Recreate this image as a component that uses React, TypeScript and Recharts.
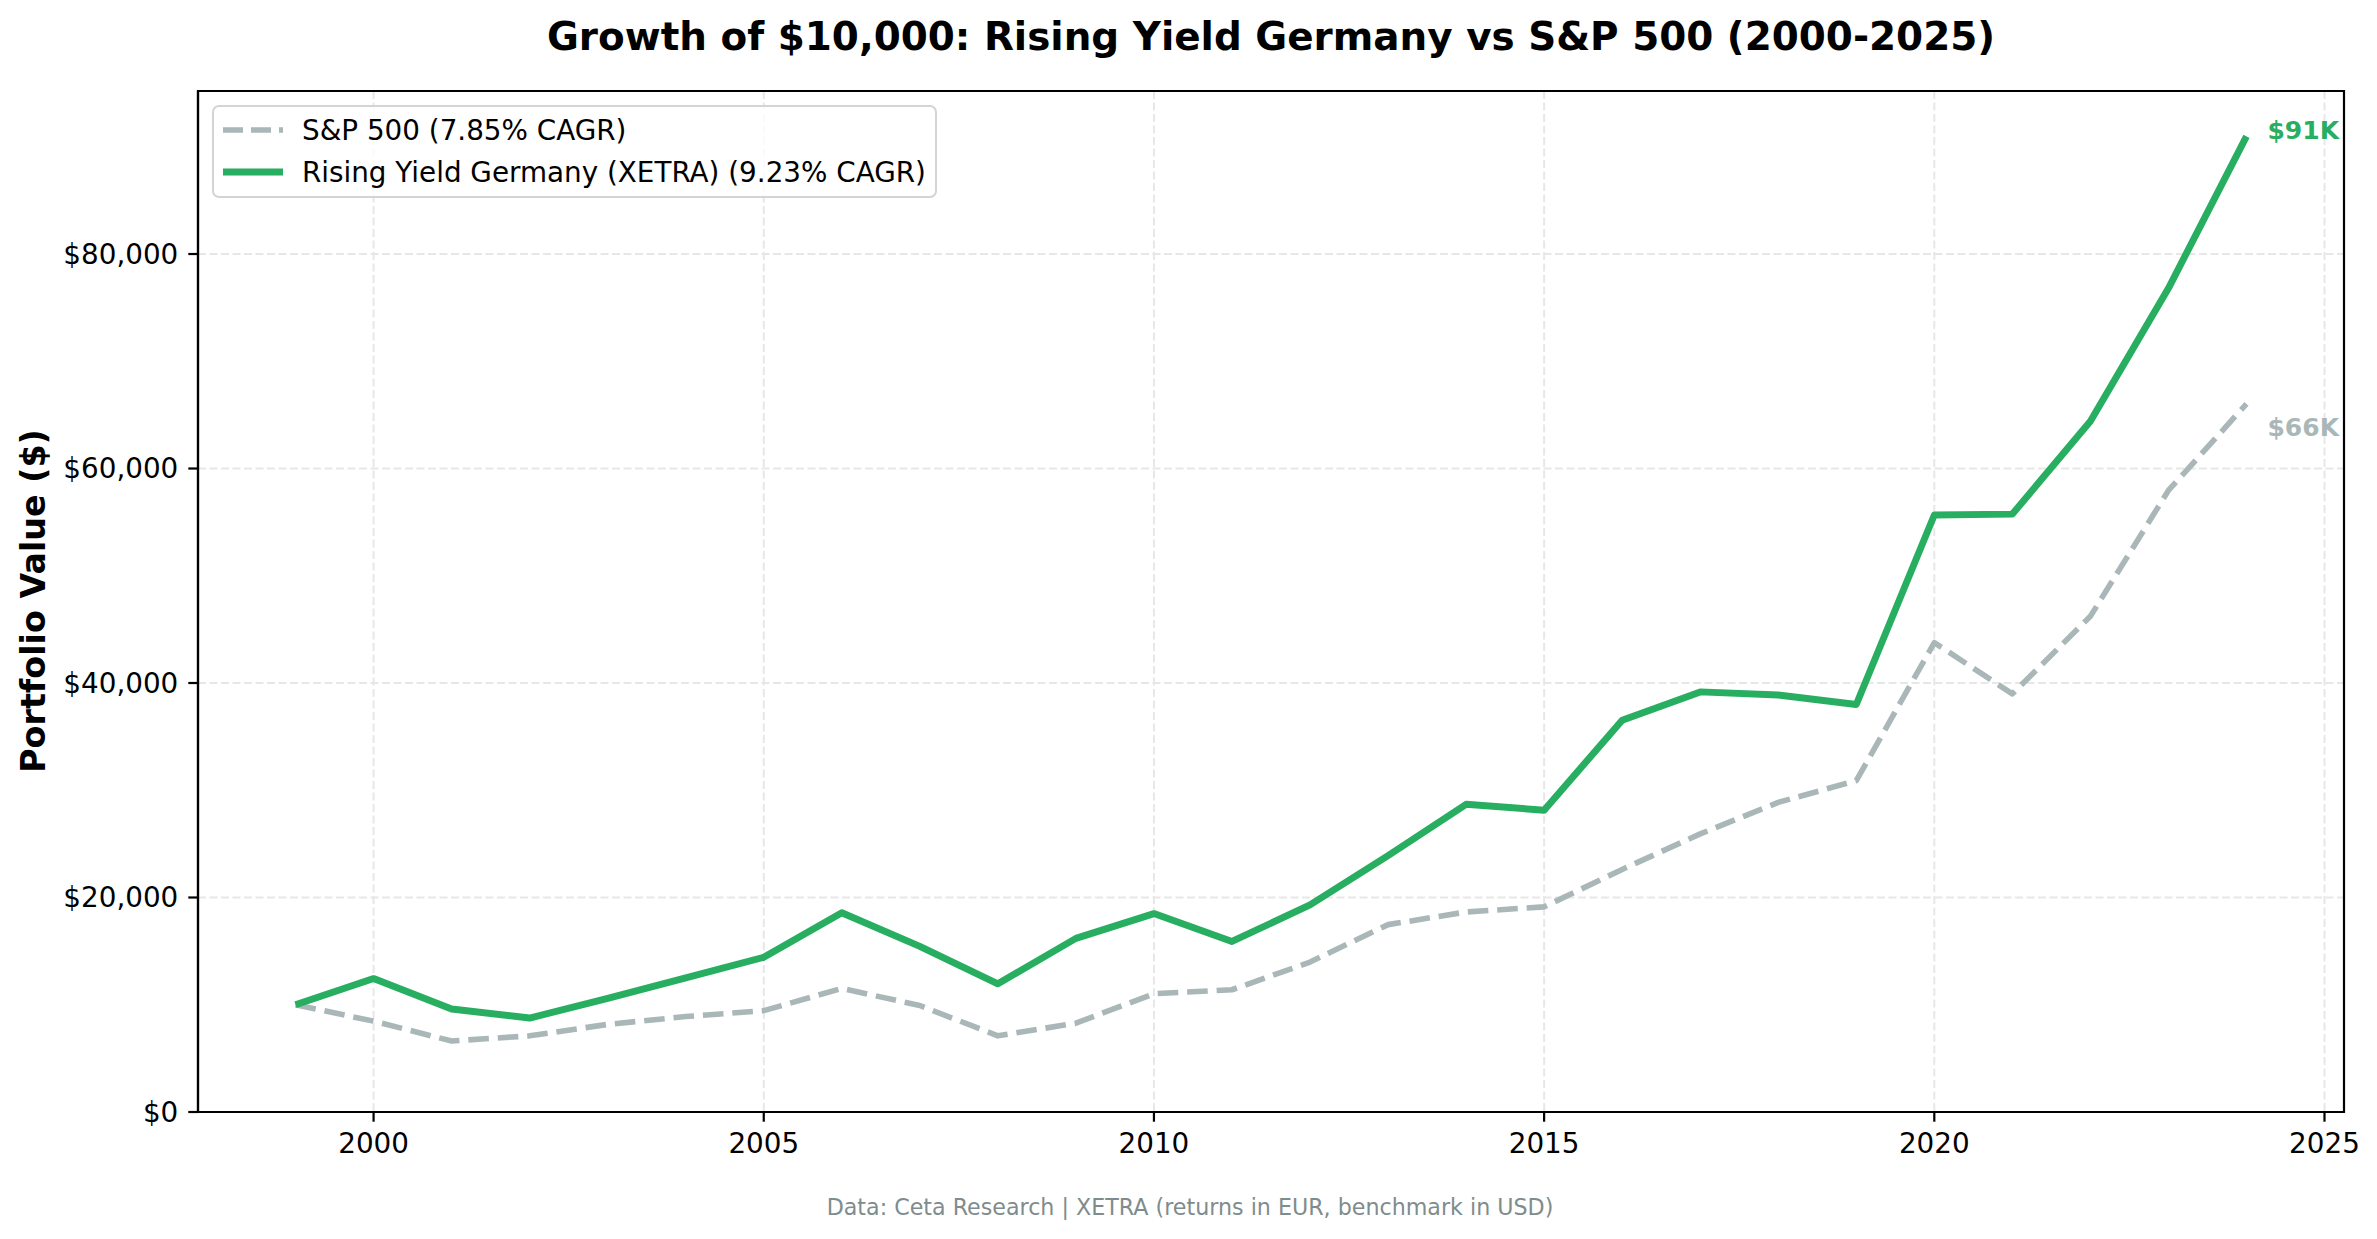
import React from "react";
import {
  LineChart,
  Line,
  XAxis,
  YAxis,
  CartesianGrid,
  ReferenceArea,
} from "recharts";

const YEARS = [
  1999, 2000, 2001, 2002, 2003, 2004, 2005, 2006, 2007, 2008, 2009, 2010, 2011,
  2012, 2013, 2014, 2015, 2016, 2017, 2018, 2019, 2020, 2021, 2022, 2023, 2024,
];

const SP500 = [
  10000, 8470, 6620, 7100, 8170, 8900, 9450, 11520, 9930, 7100, 8280, 11030,
  11400, 13980, 17470, 18650, 19130, 22620, 25930, 28870, 30900, 43770, 38990,
  46220, 57950, 66020,
];

const RISING_YIELD = [
  10000, 12440, 9600, 8760, 10600, 12500, 14420, 18580, 15450, 11950, 16190,
  18500, 15900, 19310, 23900, 28690, 28140, 36530, 39170, 38880, 38000, 55660,
  55750, 64400, 76800, 90970,
];

const X_TICKS = [2000, 2005, 2010, 2015, 2020, 2025];
const Y_TICKS = [0, 20000, 40000, 60000, 80000];

const GREEN = "#27ae60";
const GRAY = "#aab7b8";
const FONT = "'DejaVu Sans', sans-serif";

const data = YEARS.map((year, i) => ({
  year,
  sp: SP500[i],
  ryg: RISING_YIELD[i],
}));

// label only the last point of a series, to the right of the line end
const endLabel = (color: string, text: string, dy: number) => (props: any) => {
  const { x, y, index } = props;
  if (index !== YEARS.length - 1) return null;
  return (
    <text
      x={x + 21}
      y={y + dy}
      fill={color}
      fontSize={25}
      fontWeight="bold"
      fontFamily={FONT}
      dominantBaseline="central"
    >
      {text}
    </text>
  );
};

const tickStyle = { fontSize: 27.8, fill: "#000", fontFamily: FONT };

export default function App() {
  return (
    <div
      style={{
        position: "absolute",
        left: 0,
        top: 0,
        width: 2377,
        height: 1239,
        background: "#fff",
        fontFamily: FONT,
      }}
    >
      {/* title */}
      <div
        style={{
          position: "absolute",
          left: 1271,
          top: 36,
          transform: "translate(-50%, -50%)",
          fontSize: 38.9,
          fontWeight: "bold",
          whiteSpace: "nowrap",
        }}
      >
        Growth of $10,000: Rising Yield Germany vs S&amp;P 500 (2000-2025)
      </div>

      {/* y label */}
      <div
        style={{
          position: "absolute",
          left: 33,
          top: 601,
          transform: "translate(-50%, -50%) rotate(-90deg)",
          fontSize: 33.3,
          fontWeight: "bold",
          whiteSpace: "nowrap",
        }}
      >
        Portfolio Value ($)
      </div>

      <LineChart
        width={2377}
        height={1239}
        data={data}
        margin={{ top: 91, right: 33, bottom: 67, left: 48 }}
      >
        <CartesianGrid
          stroke="#e7e7e7"
          strokeWidth={2}
          strokeDasharray="8 3.5"
        />
        <XAxis
          dataKey="year"
          type="number"
          domain={[1997.75, 2025.25]}
          ticks={X_TICKS}
          height={60}
          tick={tickStyle}
          tickSize={9.7}
          tickMargin={12}
          tickLine={{ stroke: "#000", strokeWidth: 2.2 }}
          axisLine={{ stroke: "#000", strokeWidth: 2.2 }}
          allowDataOverflow
        />
        <YAxis
          type="number"
          domain={[0, 95200]}
          ticks={Y_TICKS}
          width={150}
          tick={tickStyle}
          tickSize={9.7}
          tickMargin={10}
          tickLine={{ stroke: "#000", strokeWidth: 2.2 }}
          axisLine={{ stroke: "#000", strokeWidth: 2.2 }}
          tickFormatter={(v: number) => `$${v.toLocaleString("en-US")}`}
          allowDataOverflow
        />
        {/* full frame around the plot area */}
        <ReferenceArea
          x1={1997.75}
          x2={2025.25}
          y1={0}
          y2={95200}
          fill="none"
          stroke="#000"
          strokeWidth={2.2}
          fillOpacity={0}
        />
        <Line
          type="linear"
          dataKey="sp"
          stroke={GRAY}
          strokeWidth={5.6}
          strokeDasharray="20.6 8.9"
          strokeLinejoin="round"
          dot={false}
          isAnimationActive={false}
          label={endLabel(GRAY, "$66K", 24)}
        />
        <Line
          type="linear"
          dataKey="ryg"
          stroke={GREEN}
          strokeWidth={6.9}
          strokeLinejoin="round"
          dot={false}
          isAnimationActive={false}
          label={endLabel(GREEN, "$91K", -6)}
        />
      </LineChart>

      {/* legend */}
      <div
        style={{
          position: "absolute",
          left: 212,
          top: 105,
          width: 721,
          height: 89,
          border: "2px solid #d4d4d4",
          borderRadius: 7,
          background: "rgba(255,255,255,0.8)",
          fontSize: 27.8,
        }}
      >
        {[
          { label: "S&P 500 (7.85% CAGR)", color: GRAY, dash: "20 8", w: 5.6, top: 23 },
          { label: "Rising Yield Germany (XETRA) (9.23% CAGR)", color: GREEN, dash: undefined, w: 6.9, top: 65 },
        ].map((r) => (
          <div
            key={r.label}
            style={{
              position: "absolute",
              left: 0,
              top: r.top - 20,
              height: 40,
              display: "flex",
              alignItems: "center",
              whiteSpace: "nowrap",
            }}
          >
            <svg width={88} height={40} style={{ display: "block" }}>
              <line
                x1={9}
                x2={69}
                y1={20}
                y2={20}
                stroke={r.color}
                strokeWidth={r.w}
                strokeDasharray={r.dash}
              />
            </svg>
            <span>{r.label}</span>
          </div>
        ))}
      </div>

      {/* footer */}
      <div
        style={{
          position: "absolute",
          left: 1190,
          top: 1207,
          transform: "translate(-50%, -50%)",
          fontSize: 22.2,
          color: "#7f8c8d",
          whiteSpace: "nowrap",
        }}
      >
        Data: Ceta Research | XETRA (returns in EUR, benchmark in USD)
      </div>
    </div>
  );
}
